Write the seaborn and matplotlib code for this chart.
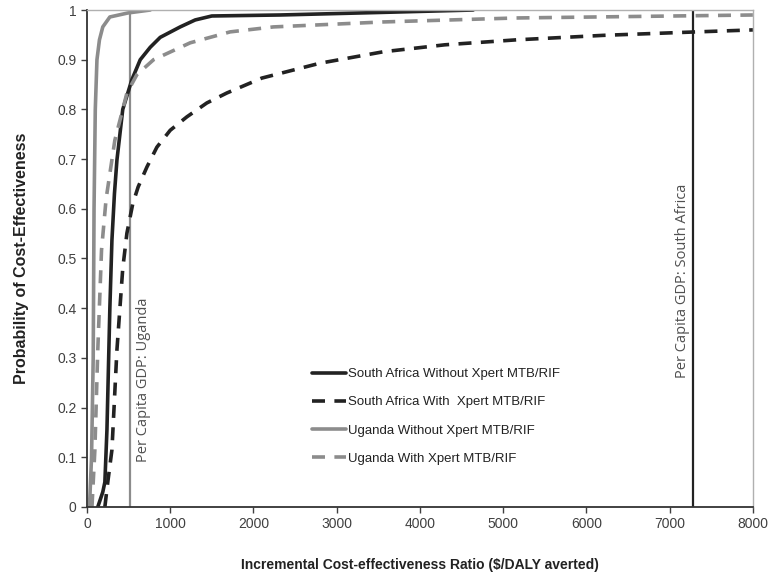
import pandas as pd
import seaborn as sns
import matplotlib.pyplot as plt

# Cost-effectiveness acceptability curves
sa_without_x = [130, 190, 215, 240, 275, 300, 330, 360, 430, 540, 640, 760, 880, 1120, 1300, 1500, 2320, 3500, 4640]
sa_without_y = [0.0, 0.03, 0.05, 0.155, 0.40, 0.537, 0.63, 0.698, 0.80, 0.86, 0.90, 0.925, 0.945, 0.966, 0.98, 0.988, 0.99, 0.995, 1.0]

sa_with_x = [215, 250, 300, 360, 430, 480, 550, 615, 720, 840, 1000, 1200, 1440, 1680, 2100, 2800, 3560, 4300, 5160, 6200, 7160, 8000]
sa_with_y = [0.0, 0.05, 0.115, 0.316, 0.48, 0.551, 0.61, 0.644, 0.684, 0.724, 0.758, 0.785, 0.813, 0.833, 0.863, 0.893, 0.916, 0.93, 0.94, 0.949, 0.955, 0.96]

ug_without_x = [30, 55, 75, 85, 100, 120, 150, 190, 275, 490, 760]
ug_without_y = [0.0, 0.1, 0.3, 0.6, 0.8, 0.9, 0.94, 0.966, 0.986, 0.994, 1.0]

ug_with_x = [60, 95, 130, 175, 230, 335, 480, 600, 800, 1240, 1720, 2240, 3560, 5160, 8000]
ug_with_y = [0.0, 0.115, 0.316, 0.517, 0.62, 0.738, 0.833, 0.87, 0.90, 0.934, 0.956, 0.966, 0.976, 0.984, 0.99]

gdp_uganda = 515
gdp_south_africa = 7280

series = [
    ("South Africa Without Xpert MTB/RIF", sa_without_x, sa_without_y, "#222222", "-"),
    ("South Africa With  Xpert MTB/RIF", sa_with_x, sa_with_y, "#222222", "--"),
    ("Uganda Without Xpert MTB/RIF", ug_without_x, ug_without_y, "#8c8c8c", "-"),
    ("Uganda With Xpert MTB/RIF", ug_with_x, ug_with_y, "#8c8c8c", "--"),
]

sns.set_theme(style="white")
plt.rcParams["font.family"] = ["Liberation Sans", "DejaVu Sans"]

fig = plt.figure(figsize=(7.73, 5.79), dpi=100)
ax = fig.add_axes([0.1125, 0.1244, 0.8615, 0.8583])

for name, xs, ys, color, ls in series:
    df = pd.DataFrame({"icer": xs, "prob": ys})
    sns.lineplot(data=df, x="icer", y="prob", ax=ax, color=color,
                 linewidth=2.6, label=name, sort=False, estimator=None)
    ax.lines[-1].set_linestyle(ls)
    if ls == "--":
        ax.lines[-1].set_dashes((3.6, 2.6))

ax.axvline(gdp_uganda, color="#8c8c8c", linewidth=1.6, zorder=1)
ax.axvline(gdp_south_africa, color="#222222", linewidth=1.6, zorder=1)

ax.text(gdp_uganda + 160, 0.09, "Per Capita GDP: Uganda", rotation=90,
        ha="center", va="bottom", fontsize=10.5, color="#505050",
        family=["Open Sans", "DejaVu Sans"])
ax.text(gdp_south_africa - 120, 0.26, "Per Capita GDP: South Africa", rotation=90,
        ha="center", va="bottom", fontsize=10.5, color="#505050",
        family=["Open Sans", "DejaVu Sans"])

ax.set_xlim(0, 8000)
ax.set_ylim(0, 1)
ax.set_xticks(range(0, 8001, 1000))
ax.set_yticks([i / 10 for i in range(11)])
ax.set_yticklabels(["0"] + [f"0.{i}" for i in range(1, 10)] + ["1"])
ax.tick_params(axis="both", which="both", direction="out", length=4, width=1,
               colors="#404040", labelsize=10, left=True, bottom=True)

for side in ["left", "bottom"]:
    ax.spines[side].set_color("#333333")
    ax.spines[side].set_linewidth(1.3)
for side in ["top", "right"]:
    ax.spines[side].set_color("#b0b0b0")
    ax.spines[side].set_linewidth(1.0)

ax.set_xlabel("Incremental Cost-effectiveness Ratio ($/DALY averted)",
              fontsize=10, fontweight="bold", color="#222222", labelpad=19)
ax.set_ylabel("Probability of Cost-Effectiveness",
              fontsize=11.5, fontweight="bold", color="#222222", labelpad=20)

leg = ax.legend(loc="upper left", bbox_to_anchor=(0.33, 0.29), frameon=False,
                fontsize=9.5, handlelength=2.6, handletextpad=0.1,
                labelspacing=1.2, borderaxespad=0)
for t in leg.get_texts():
    t.set_color("#222222")

fig.savefig("out.png", dpi=100)
